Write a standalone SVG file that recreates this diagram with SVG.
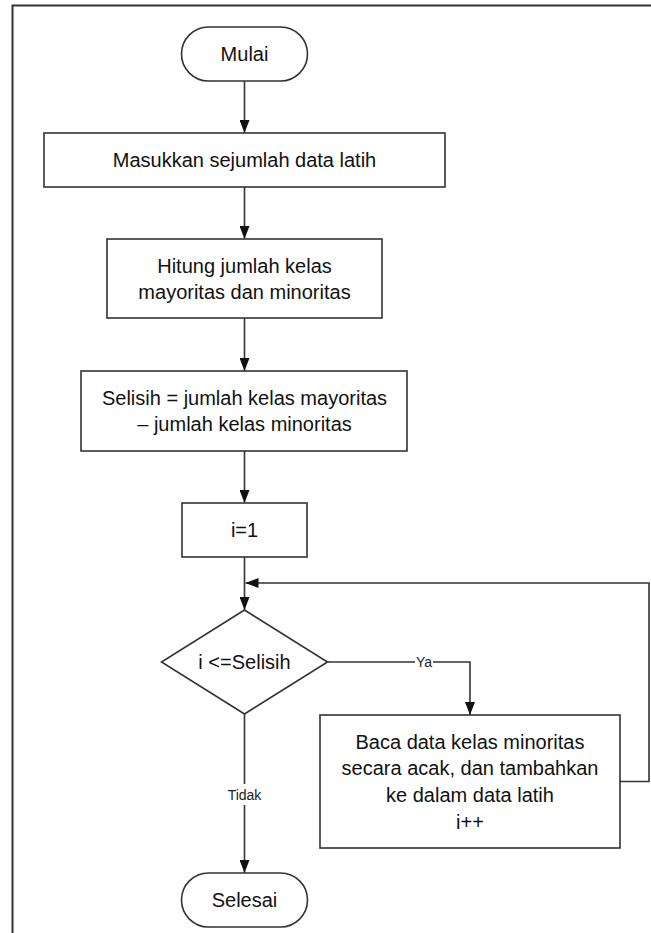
<svg xmlns="http://www.w3.org/2000/svg" width="651" height="933" viewBox="0 0 651 933">
<defs>
<style>
.shape{fill:#fff;stroke:#333;stroke-width:1.6}
.t{font-family:"Liberation Sans",Arial,sans-serif;font-size:20px;fill:#111;text-anchor:middle;dominant-baseline:central}
.lbl{font-family:"Liberation Sans",Arial,sans-serif;font-size:14px;fill:#222;text-anchor:middle;dominant-baseline:central}
.edge{fill:none;stroke:#333;stroke-width:1.6}
.frame{fill:none;stroke:#333;stroke-width:2}
</style>
<marker id="ah" viewBox="0 0 13 10" refX="13" refY="5" markerWidth="13" markerHeight="10" markerUnits="userSpaceOnUse" orient="auto">
<path d="M0,0 L13,5 L0,10 Z" fill="#111"/>
</marker>
</defs>
<rect width="651" height="933" fill="#fff"/>
<path class="frame" d="M12.5,933 V5.5 H651"/>
<g id="connectors">
<path class="edge" d="M244.5,81 V133" marker-end="url(#ah)"/>
<path class="edge" d="M244.5,187 V239" marker-end="url(#ah)"/>
<path class="edge" d="M244.5,318 V371" marker-end="url(#ah)"/>
<path class="edge" d="M244.5,451 V503" marker-end="url(#ah)"/>
<path class="edge" d="M244.5,557 V610" marker-end="url(#ah)"/>
<path class="edge" d="M327.5,662 H470 V715" marker-end="url(#ah)"/>
<path class="edge" d="M620,781.5 H649 V583 H245.5" marker-end="url(#ah)"/>
<path class="edge" d="M244.5,714 V873" marker-end="url(#ah)"/>
<g id="label-ya"><rect x="415" y="655" width="18" height="14" fill="#fff"/><text class="lbl" x="424" y="662">Ya</text></g>
<g id="label-tidak"><rect x="227" y="784" width="35" height="21" fill="#fff"/><text class="lbl" x="244.5" y="794.5">Tidak</text></g>
</g>
<g id="mulai"><rect class="shape" x="181.5" y="27" width="126" height="54" rx="27"/><text class="t" x="244.5" y="54">Mulai</text></g>
<g id="masukkan"><rect class="shape" x="44" y="133" width="401" height="54"/><text class="t" x="244.5" y="160">Masukkan sejumlah data latih</text></g>
<g id="hitung"><rect class="shape" x="107" y="239" width="275" height="79"/><text class="t" x="244.5" y="265.5">Hitung jumlah kelas</text><text class="t" x="244.5" y="292">mayoritas dan minoritas</text></g>
<g id="selisih"><rect class="shape" x="81" y="371" width="326" height="80"/><text class="t" x="244.5" y="397.7">Selisih = jumlah kelas mayoritas</text><text class="t" x="244.5" y="424.3">– jumlah kelas minoritas</text></g>
<g id="init"><rect class="shape" x="182" y="503" width="125" height="54"/><text class="t" x="244.5" y="530">i=1</text></g>
<g id="decision"><polygon class="shape" points="244.5,610 327.5,662 244.5,714 161.5,662"/><text class="t" x="244.5" y="662">i &lt;=Selisih</text></g>
<g id="baca"><rect class="shape" x="320" y="715" width="300" height="133"/><text class="t" x="470" y="741.5">Baca data kelas minoritas</text><text class="t" x="470" y="768.2">secara acak, dan tambahkan</text><text class="t" x="470" y="794.8">ke dalam data latih</text><text class="t" x="470" y="821.5">i++</text></g>
<g id="selesai"><rect class="shape" x="181.5" y="873" width="126" height="54" rx="27"/><text class="t" x="244.5" y="900">Selesai</text></g>
</svg>
